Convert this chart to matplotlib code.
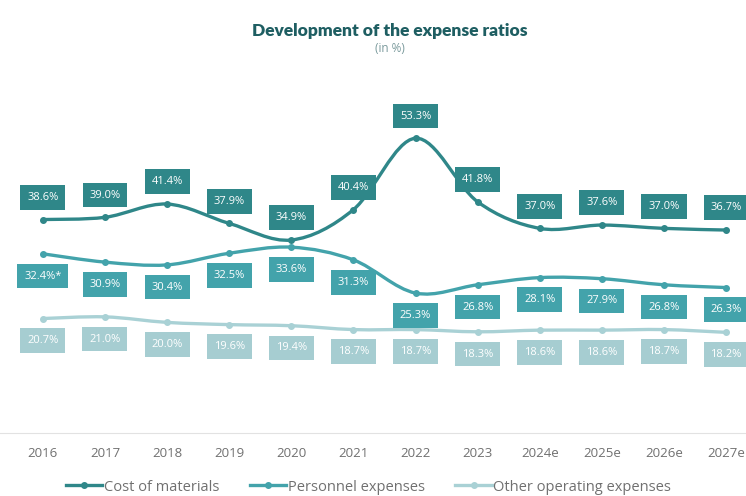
import numpy as np
import matplotlib
matplotlib.use("Agg")
import matplotlib.pyplot as plt
from matplotlib.path import Path
from matplotlib.patches import PathPatch
from matplotlib.lines import Line2D

plt.rcParams['font.family'] = ['Open Sans', 'DejaVu Sans']

years = ['2016', '2017', '2018', '2019', '2020', '2021', '2022', '2023',
         '2024e', '2025e', '2026e', '2027e']
materials = [38.6, 39.0, 41.4, 37.9, 34.9, 40.4, 53.3, 41.8, 37.0, 37.6, 37.0, 36.7]
personnel = [32.4, 30.9, 30.4, 32.5, 33.6, 31.3, 25.3, 26.8, 28.1, 27.9, 26.8, 26.3]
other = [20.7, 21.0, 20.0, 19.6, 19.4, 18.7, 18.7, 18.3, 18.6, 18.6, 18.7, 18.2]
personnel_notes = ['*', '', '', '', '', '', '', '', '', '', '', '']

c_mat = '#2f8789'
c_pers = '#43a3ab'
c_oth = '#a9d1d5'


def smooth_path(xs, ys):
    # catmull-rom segments turned into cubic bezier pieces
    pts = np.column_stack([xs, ys]).astype(float)
    verts = [pts[0]]
    codes = [Path.MOVETO]
    n = len(pts)
    for i in range(n - 1):
        p0 = pts[max(i - 1, 0)]
        p1 = pts[i]
        p2 = pts[i + 1]
        p3 = pts[min(i + 2, n - 1)]
        verts += [p1 + (p2 - p0) / 6, p2 - (p3 - p1) / 6, p2]
        codes += [Path.CURVE4] * 3
    return Path(verts, codes)


fig = plt.figure(figsize=(7.46, 4.96), dpi=100)
ax = fig.add_axes([0, 0.127, 1, 0.669])
x = np.arange(len(years))

series = [
    (materials, c_mat, c_mat, 'Cost of materials', 16, None),
    (personnel, c_pers, c_pers, 'Personnel expenses', -16, personnel_notes),
    (other, c_oth, '#a6cdd1', 'Other operating expenses', -16, None),
]

for vals, col, boxcol, name, dy, notes in series:
    ax.add_patch(PathPatch(smooth_path(x, vals), fill=False, edgecolor=col,
                           lw=2.4, capstyle='round', zorder=2))
    ax.plot(x, vals, 'o', color=col, ms=4, zorder=3)
    for i, v in enumerate(vals):
        txt = f'{v:.1f}%' + (notes[i] if notes else '')
        ax.annotate(txt, (x[i], v), xytext=(0, dy), textcoords='offset points',
                    ha='center', va='center', fontsize=8, color='white',
                    bbox=dict(boxstyle='square,pad=0.62', fc=boxcol, ec='none'),
                    zorder=4)

ax.set_xlim(-0.69, 11.32)
ax.set_ylim(0, 60)
ax.set_xticks(x)
ax.set_xticklabels(years, fontsize=9.5, color='#707070')
ax.tick_params(axis='x', length=0, pad=10)
ax.set_yticks([])
for s in ['top', 'right', 'left']:
    ax.spines[s].set_visible(False)
ax.spines['bottom'].set_color('#e2e2e2')
ax.set_facecolor('none')

fig.text(0.523, 0.938, 'Development of the expense ratios', ha='center',
         va='center', fontsize=12.5, fontweight='heavy', color='#1e5e62',
         family=['Lato', 'DejaVu Sans'])
fig.text(0.523, 0.903, '(in %)', ha='center', va='center', fontsize=8.5,
         color='#7a9a9c')

handles = [Line2D([0], [0], color=c, lw=2.4, marker='o', ms=4)
           for c in (c_mat, c_pers, c_oth)]
fig.legend(handles, ['Cost of materials', 'Personnel expenses',
                     'Other operating expenses'],
           loc='center', bbox_to_anchor=(0.494, 0.018), ncol=3, frameon=False,
           fontsize=10.5, labelcolor='#707070', handlelength=2.5,
           handletextpad=0.1, columnspacing=2.1)

fig.savefig('out.png', dpi=100)
